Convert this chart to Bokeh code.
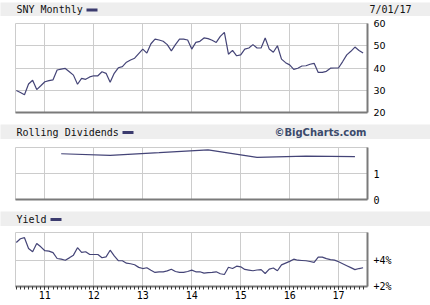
import pandas as pd
from bokeh.plotting import figure
from bokeh.layouts import column, Spacer
from bokeh.models import (Range1d, FixedTicker, Label, BoxAnnotation,
                          CustomJSTickFormatter)
from bokeh.embed import file_html
from bokeh.resources import INLINE

# ---------------- data ----------------
start_month = "2010-06-01"
price = [29.9, 29.0, 28.0, 32.8, 34.5, 30.3, 32.0, 33.8, 34.3, 34.7,
         39.1, 39.5, 39.8, 38.3, 36.8, 32.7, 35.3, 34.9, 36.0, 36.5,
         36.5, 38.3, 37.6, 33.6, 37.6, 40.1, 40.6, 42.6, 43.6, 44.4,
         46.5, 48.5, 46.7, 50.9, 53.0, 52.6, 52.0, 50.5, 47.7, 50.5,
         53.0, 53.0, 52.6, 48.5, 51.5, 52.0, 53.5, 53.2, 52.5, 51.5,
         54.2, 56.0, 46.2, 47.9, 45.5, 45.9, 48.5, 49.0, 50.5, 49.0,
         49.0, 53.5, 48.5, 47.1, 50.0, 44.0, 42.4, 41.4, 39.4, 39.9,
         40.9, 41.0, 41.7, 42.1, 38.0, 38.0, 38.5, 39.9, 40.0, 40.1,
         42.9, 45.9, 47.5, 49.4, 47.9, 46.7]
yield_pct = [5.38, 5.67, 5.75, 4.92, 4.67, 5.31, 5.05, 4.75, 4.72, 4.60,
             4.15, 4.10, 4.02, 4.20, 4.41, 4.98, 4.62, 4.67, 4.46, 4.46,
             4.46, 4.21, 4.28, 4.79, 4.35, 3.98, 3.98, 3.79, 3.75, 3.67,
             3.47, 3.38, 3.44, 3.25, 3.08, 3.12, 3.13, 3.20, 3.33, 3.15,
             3.08, 3.08, 3.15, 3.26, 3.13, 3.13, 3.03, 3.06, 3.09, 3.13,
             2.98, 2.92, 3.48, 3.38, 3.56, 3.51, 3.31, 3.26, 3.21, 3.27,
             3.30, 3.00, 3.33, 3.42, 3.21, 3.66, 3.80, 3.93, 4.10, 4.02,
             4.00, 3.98, 3.92, 3.85, 4.26, 4.26, 4.14, 4.06, 4.03, 3.90,
             3.75, 3.60, 3.45, 3.30, 3.38, 3.44]
div_dates = ["2011-05-01", "2012-05-01", "2013-05-01", "2014-05-01",
             "2015-05-01", "2016-05-01", "2017-05-01"]
dividends = [1.76, 1.70, 1.80, 1.91, 1.62, 1.67, 1.65]
year_ticks = [2011, 2012, 2013, 2014, 2015, 2016, 2017]
price_ticks = [20, 30, 40, 50, 60]
div_ticks = [0, 1]
yield_ticks = [2, 4]


def frac_year(d):
    d = pd.Timestamp(d)
    return d.year + (d.month - 1) / 12.0


months = pd.date_range(start_month, periods=len(price), freq="MS")
t = [frac_year(m) for m in months]
t_div = [frac_year(d) for d in div_dates]

# ---------------- style ----------------
W = 430
FL, FR = 15, 367          # frame left / right (pixels)
X0, X1 = 2010.40, 2017.59
LINE = "#444477"
GRID = "#cccccc"
DARK = "#7a7a7a"
HDR_BG = "#eeeeee"
MONO = "DejaVu Sans Mono"


def header(height, title, extra=None):
    # full-width gray bar; x data range equals page pixels
    h = figure(width=W, height=height, x_range=Range1d(0, W),
               y_range=Range1d(0, height),
               x_axis_type=None, y_axis_type=None,
               toolbar_location=None, output_backend="svg",
               frame_align=False,
               min_border_left=0, min_border_right=0,
               min_border_top=0, min_border_bottom=0)
    h.grid.visible = False
    h.outline_line_color = None
    h.background_fill_color = HDR_BG
    h.border_fill_color = HDR_BG
    mid = height / 2.0
    h.add_layout(Label(x=16, y=mid, text=title, text_font=MONO,
                       text_font_size="10px", text_color="#111111",
                       text_baseline="middle"))
    x_dash = 16 + len(title) * 6 + 4
    h.add_layout(BoxAnnotation(left=x_dash, right=x_dash + 11,
                               bottom=mid - 2, top=mid + 1,
                               fill_color="#3b3b6e", fill_alpha=1,
                               line_color=None))
    if extra:
        for kw in extra:
            h.add_layout(Label(y=mid, text_baseline="middle", **kw))
    return h


def panel(height, top, bottom, y0, y1, yticks, label_font, label_size,
          label_fmt=None, with_xlabels=False):
    p = figure(width=W, height=height, x_range=Range1d(X0, X1),
               y_range=Range1d(y0, y1), y_axis_location="right",
               toolbar_location=None, output_backend="svg",
               min_border_left=FL, min_border_right=W - FR,
               min_border_top=top, min_border_bottom=bottom)
    p.outline_line_color = GRID
    p.outline_line_width = 1
    p.background_fill_color = "white"
    # right axis
    ya = p.yaxis[0]
    ya.ticker = FixedTicker(ticks=yticks)
    if label_fmt:
        ya.formatter = CustomJSTickFormatter(code=label_fmt)
    ya.major_tick_line_color = None
    ya.minor_tick_line_color = None
    ya.major_tick_out = 0
    ya.major_tick_in = 0
    ya.minor_tick_out = 0
    ya.major_label_standoff = 6
    ya.axis_line_color = DARK
    ya.axis_line_width = 2
    ya.major_label_text_font = label_font
    ya.major_label_text_font_size = label_size
    ya.major_label_text_color = "#000000"
    # bottom axis
    xa = p.xaxis[0]
    xa.axis_line_color = DARK
    xa.axis_line_width = 2
    if with_xlabels:
        xa.ticker = FixedTicker(ticks=year_ticks, minor_ticks=t)
        xa.formatter = CustomJSTickFormatter(
            code="return String(Math.round(tick) % 100);")
        xa.major_tick_out = 3
        xa.major_tick_in = 0
        xa.minor_tick_out = 3
        xa.minor_tick_in = 0
        xa.major_tick_line_color = "#333333"
        xa.minor_tick_line_color = "#333333"
        xa.major_label_standoff = 1
        xa.major_label_text_font = MONO
        xa.major_label_text_font_size = "10px"
        xa.major_label_text_color = "#000000"
    else:
        xa.ticker = FixedTicker(ticks=[])
        xa.major_tick_out = 0
        xa.minor_tick_out = 0
        xa.major_label_standoff = 0
    p.xgrid.ticker = FixedTicker(ticks=year_ticks)
    p.ygrid.ticker = FixedTicker(ticks=yticks)
    p.xgrid.grid_line_color = GRID
    p.ygrid.grid_line_color = GRID
    return p


# header 1 (page y 2-16)
h1 = header(14, "SNY Monthly",
            extra=[dict(x=369, text="7/01/17", text_font=MONO,
                        text_font_size="10px", text_color="#111111")])

# price panel (page y 16-124, frame 23-112)
p1 = panel(108, 7, 12, 20, 60, price_ticks, "DejaVu Sans", "9.5px")
p1.line(t, price, line_color=LINE, line_width=1.2)

# header 2 (page y 124-139)
h2 = header(15, "Rolling Dividends",
            extra=[dict(x=366, text="\u00a9BigCharts.com",
                        text_font="DejaVu Sans", text_font_style="bold",
                        text_font_size="10px", text_color="#3b4a6b",
                        text_align="right")])

# dividends panel (page y 139-211, frame 147-199)
p2 = panel(72, 8, 12, 0, 2, div_ticks, MONO, "10px")
p2.line(t_div, dividends, line_color=LINE, line_width=1.2)

# header 3 (page y 211-226)
h3 = header(15, "Yield")

# yield panel (page y 226-305, frame 232-286)
p3 = panel(79, 6, 19, 2, 6.15, yield_ticks, MONO, "10px",
           label_fmt="return '+' + tick.toFixed(0) + '%';",
           with_xlabels=True)
p3.line(t, yield_pct, line_color=LINE, line_width=1.2)

layout = column(Spacer(width=W, height=2), h1, p1, h2, p2, h3, p3,
                spacing=0)

open("out.html", "w").write(file_html(layout, INLINE))
